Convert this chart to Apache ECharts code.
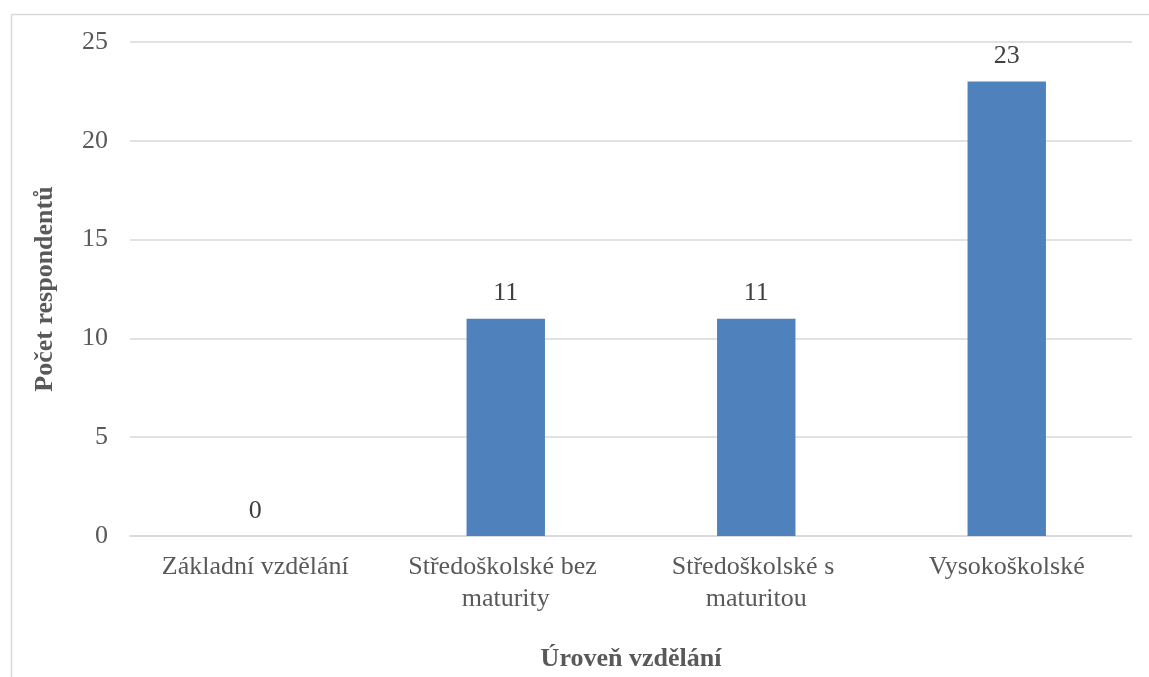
<!DOCTYPE html>
<html><head><meta charset="utf-8">
<script src="https://cdn.jsdelivr.net/npm/echarts@6/dist/echarts.min.js"></script>
<style>html,body{margin:0;padding:0;background:#fff}#c{width:1149px;height:677px}</style>
</head><body><div id="c"></div>
<script>
const categories = ['Základní vzdělání', 'Středoškolské bez maturity', 'Středoškolské s maturitou', 'Vysokoškolské'];
const values = [0, 11, 11, 23];
const yTicks = [0, 5, 10, 15, 20, 25];
const xTitle = 'Úroveň vzdělání';
const yTitle = 'Počet respondentů';

const font = '"Liberation Serif", "Times New Roman", serif';
const chart = echarts.init(document.getElementById('c'));
chart.setOption({
  animation: false,
  backgroundColor: '#fff',
  graphic: [{type:'rect', left: 9, top: 12, shape:{width: 1200, height: 700}, style:{fill:'none', stroke:'#d9d9d9', lineWidth: 1.5}, silent: true}],
  grid: {left: 130, right: 17, top: 42, bottom: 140},
  xAxis: {
    type: 'category', data: categories,
    name: xTitle, nameLocation: 'middle', nameGap: 110,
    nameTextStyle: {fontFamily: font, fontSize: 26, fontWeight: 'bold', color: '#595959'},
    axisLine: {lineStyle: {color: '#d9d9d9', width: 1.5}},
    axisTick: {show: false},
    axisLabel: {fontFamily: font, fontSize: 26, color: '#595959', margin: 15, width: 268, overflow: 'break', lineHeight: 32, interval: 0}
  },
  yAxis: {
    type: 'value', min: yTicks[0], max: yTicks[yTicks.length-1], interval: 5,
    name: yTitle, nameLocation: 'middle', nameGap: 72,
    nameTextStyle: {fontFamily: font, fontSize: 26, fontWeight: 'bold', color: '#595959'},
    axisLine: {show: false}, axisTick: {show: false},
    splitLine: {lineStyle: {color: '#d9d9d9', width: 1.5}},
    axisLabel: {fontFamily: font, fontSize: 26, color: '#595959', margin: 22}
  },
  series: [{
    type: 'bar', data: values, barWidth: '31.3%',
    itemStyle: {color: '#4f81bd'},
    label: {show: true, position: 'top', distance: 12, fontFamily: font, fontSize: 26, color: '#404040'}
  }]
});
</script></body></html>
